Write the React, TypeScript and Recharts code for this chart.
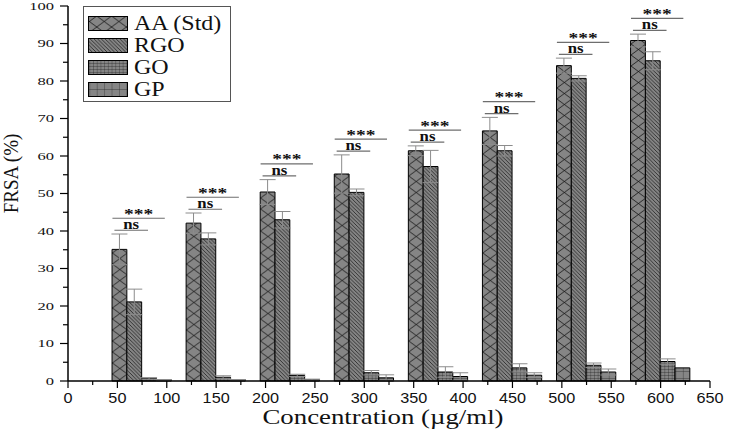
import React from 'react'
import {
  BarChart,
  Bar,
  XAxis,
  YAxis,
  ErrorBar,
  Legend,
  Label,
  ReferenceLine
} from 'recharts'

// group centres on the concentration axis
const positions = [75, 150, 225, 300, 375, 450, 525, 600]

const seriesNames = ['AA (Std)', 'RGO', 'GO', 'GP']
const aaMean = [35.1, 42.1, 50.4, 55.2, 61.4, 66.7, 84.1, 90.8]
const aaErr = [4.1, 2.7, 3.3, 5.1, 1.3, 3.6, 2.0, 1.7]
const rgoMean = [21.1, 37.9, 43.0, 50.3, 57.2, 61.4, 80.7, 85.4]
const rgoErr = [3.4, 1.6, 2.2, 0.9, 4.3, 1.4, 0.7, 2.4]
const goMean = [0.7, 1.0, 1.5, 2.2, 2.4, 3.5, 4.2, 5.2]
const goErr = [0.2, 0.4, 0.3, 0.6, 1.4, 1.1, 0.6, 0.7]
const gpMean = [0.3, 0.3, 0.4, 0.85, 1.2, 1.55, 2.4, 3.5]
const gpErr = [0.1, 0.1, 0.1, 0.8, 1.0, 0.65, 0.8, 0]

const sigOuter = ['***', '***', '***', '***', '***', '***', '***', '***']
const sigInner = ['ns', 'ns', 'ns', 'ns', 'ns', 'ns', 'ns', 'ns']

const xTicks = [0, 25, 50, 75, 100, 125, 150, 175, 200, 225, 250, 275, 300, 325, 350,
  375, 400, 425, 450, 475, 500, 525, 550, 575, 600, 625, 650]
const yTicks = [0, 5, 10, 15, 20, 25, 30, 35, 40, 45, 50, 55, 60, 65, 70, 75, 80, 85,
  90, 95, 100]

const rows = positions.map((pos, i) => ({
  pos,
  aa: aaMean[i],
  aaErr: aaErr[i],
  rgo: rgoMean[i],
  rgoErr: rgoErr[i],
  go: goMean[i],
  goErr: goErr[i],
  gp: gpMean[i],
  gpErr: gpErr[i]
}))

const W = 751
const H = 441
const margin = { top: 6, right: 41, left: 0, bottom: 0 }
const yAxisW = 68
const pu = (W - margin.right - yAxisW) / 650
const barW = 15 * pu
const patX = yAxisW + 45 * pu

const serif = '"Liberation Serif", "Times New Roman", serif'
const sans = '"Liberation Sans", Arial, sans-serif'
const barFill = '#858585'

const XTick = (props: any) => {
  const { x, y, payload } = props
  const v = payload.value
  const major = v % 50 === 0
  return (
    <g>
      <line x1={x} x2={x} y1={y} y2={y + (major ? 7 : 4)} stroke="#000" strokeWidth={1.2} />
      {major && (
        <text
          transform={`translate(${x},${y + 22}) scale(1.16,1)`}
          textAnchor="middle"
          fontFamily={sans}
          fontSize={14}
          fill="#111"
        >
          {v}
        </text>
      )}
    </g>
  )
}

const YTick = (props: any) => {
  const { x, y, payload } = props
  const v = payload.value
  const major = v % 10 === 0
  return (
    <g>
      <line x1={x - (major ? 8 : 5)} x2={x} y1={y} y2={y} stroke="#000" strokeWidth={1.2} />
      {major && (
        <text
          transform={`translate(${x - 14},${y + 3.7}) scale(1.5,1)`}
          textAnchor="end"
          fontFamily={serif}
          fontSize={11}
          fill="#111"
        >
          {v}
        </text>
      )}
    </g>
  )
}

const SigText = (props: any) => {
  const { viewBox, text, outer } = props
  if (!viewBox) return null
  const cx = viewBox.x + viewBox.width / 2
  const y = viewBox.y
  return (
    <text
      transform={`translate(${cx},${outer ? y + 0.5 : y - 1}) scale(${outer ? 1.3 : 1.2},1)`}
      textAnchor="middle"
      fontFamily={serif}
      fontWeight="bold"
      fontSize={outer ? 15 : 14}
      fill="#111"
    >
      {text}
    </text>
  )
}

const LegendBox = (props: any) => {
  const items = [...(props.payload || [])].sort(
    (a: any, b: any) => seriesNames.indexOf(a.value) - seriesNames.indexOf(b.value)
  )
  return (
    <div
      style={{
        width: 148,
        height: 96,
        boxSizing: 'border-box',
        border: '1px solid #555',
        background: '#fff',
        paddingTop: 5,
        paddingLeft: 4
      }}
    >
      {items.map((entry: any) => (
        <div key={entry.value} style={{ display: 'flex', alignItems: 'center', height: 22 }}>
          <svg width={40} height={15} style={{ display: 'block' }}>
            <rect x={0.5} y={0.5} width={39} height={14} fill={entry.color} stroke="#000" strokeWidth={1} />
          </svg>
          <span
            style={{
              marginLeft: 6,
              fontFamily: serif,
              fontSize: 20,
              lineHeight: '22px',
              color: '#111',
              display: 'inline-block',
              transform: 'scaleX(1.2)',
              transformOrigin: 'left center',
              whiteSpace: 'nowrap'
            }}
          >
            {entry.value}
          </span>
        </div>
      ))}
    </div>
  )
}

export default function App () {
  return (
    <div style={{ position: 'absolute', left: 0, top: 0, width: W, height: H, background: '#fff' }}>
      <BarChart
        width={W}
        height={H}
        data={rows}
        margin={margin}
        barGap={0}
        barSize={barW}
      >
        <defs>
          <pattern id="pAA" patternUnits="userSpaceOnUse" x={patX} y={0} width={barW} height={11}>
            <rect width={barW} height={11} fill={barFill} />
            <path d={`M0,0 L${barW},11 M${barW},0 L0,11`} stroke="#111" strokeWidth={0.8} fill="none" />
          </pattern>
          <pattern id="pRGO" patternUnits="userSpaceOnUse" x={patX} y={0} width={barW / 4} height={barW / 4}>
            <rect width={barW / 4} height={barW / 4} fill={barFill} />
            <path
              d={`M0,0 L${barW / 4},${barW / 4} M-1,${barW / 4 - 1} L1,${barW / 4 + 1} M${barW / 4 - 1},-1 L${barW / 4 + 1},1`}
              stroke="#111"
              strokeWidth={0.7}
              fill="none"
            />
          </pattern>
          <pattern id="pGO" patternUnits="userSpaceOnUse" x={patX} y={0} width={barW / 4} height={3}>
            <rect width={barW / 4} height={3} fill={barFill} />
            <path d={`M0,0 L0,3 M0,0 L${barW / 4},0`} stroke="#111" strokeWidth={0.6} fill="none" />
          </pattern>
          <pattern id="pGP" patternUnits="userSpaceOnUse" x={patX} y={0} width={barW / 2} height={7}>
            <rect width={barW / 2} height={7} fill={barFill} />
            <path d={`M0,0 L0,7 M0,0 L${barW / 2},0`} stroke="#222" strokeWidth={0.7} fill="none" />
          </pattern>
        </defs>

        <XAxis
          type="number"
          dataKey="pos"
          domain={[0, 650]}
          ticks={xTicks}
          interval={0}
          height={60}
          tickSize={0}
          tickMargin={0}
          tickLine={false}
          tick={<XTick />}
          axisLine={{ stroke: '#000', strokeWidth: 1.5 }}
        >
          <Label
            content={(p: any) => {
              const vb = p.viewBox || { x: 0, y: 0, width: 0 }
              return (
                <text
                  transform={`translate(${vb.x + vb.width / 2 - 6},${vb.y + 43}) scale(1.22,1)`}
                  textAnchor="middle"
                  fontFamily={serif}
                  fontSize={22}
                  fill="#111"
                >
                  Concentration (µg/ml)
                </text>
              )
            }}
          />
        </XAxis>
        <YAxis
          type="number"
          domain={[0, 100]}
          ticks={yTicks}
          interval={0}
          width={yAxisW}
          tickSize={0}
          tickMargin={0}
          tickLine={false}
          tick={<YTick />}
          axisLine={{ stroke: '#000', strokeWidth: 1.5 }}
        >
          <Label
            content={(p: any) => {
              const vb = p.viewBox || { x: 0, y: 0, height: 0 }
              return (
                <text
                  transform={`translate(18,${vb.y + vb.height / 2 - 20}) scale(1.1,1) rotate(-90)`}
                  textAnchor="middle"
                  fontFamily={serif}
                  fontSize={19}
                  fill="#111"
                >
                  FRSA (%)
                </text>
              )
            }}
          />
        </YAxis>

        <Legend
          layout="horizontal"
          verticalAlign="middle"
          align="center"
          content={<LegendBox />}
          wrapperStyle={{ left: 83, top: 6, width: 148, height: 96 }}
        />

        <Bar dataKey="aa" name={seriesNames[0]} fill="url(#pAA)" stroke="#000" strokeWidth={1} isAnimationActive={false}>
          <ErrorBar dataKey="aaErr" width={8} stroke="#8c8c8c" strokeWidth={1} />
        </Bar>
        <Bar dataKey="rgo" name={seriesNames[1]} fill="url(#pRGO)" stroke="#000" strokeWidth={1} isAnimationActive={false}>
          <ErrorBar dataKey="rgoErr" width={8} stroke="#8c8c8c" strokeWidth={1} />
        </Bar>
        <Bar dataKey="go" name={seriesNames[2]} fill="url(#pGO)" stroke="#000" strokeWidth={1} isAnimationActive={false}>
          <ErrorBar dataKey="goErr" width={8} stroke="#8c8c8c" strokeWidth={1} />
        </Bar>
        <Bar dataKey="gp" name={seriesNames[3]} fill="url(#pGP)" stroke="#000" strokeWidth={1} isAnimationActive={false}>
          <ErrorBar dataKey="gpErr" width={8} stroke="#8c8c8c" strokeWidth={1} />
        </Bar>

        {positions.map((c, i) => {
          const top = Math.max(aaMean[i] + aaErr[i], rgoMean[i] + rgoErr[i])
          return (
            <ReferenceLine
              key={`o${i}`}
              segment={[{ x: c - 30, y: top + 4.2 }, { x: c + 23, y: top + 4.2 }]}
              stroke="#6e6e6e"
              strokeWidth={1.2}
              label={<SigText text={sigOuter[i]} outer />}
            />
          )
        })}
        {positions.map((c, i) => {
          const top = Math.max(aaMean[i] + aaErr[i], rgoMean[i] + rgoErr[i])
          return (
            <ReferenceLine
              key={`n${i}`}
              segment={[{ x: c - 28, y: top + 1 }, { x: c + 6, y: top + 1 }]}
              stroke="#6e6e6e"
              strokeWidth={1.2}
              label={<SigText text={sigInner[i]} />}
            />
          )
        })}
      </BarChart>
    </div>
  )
}
